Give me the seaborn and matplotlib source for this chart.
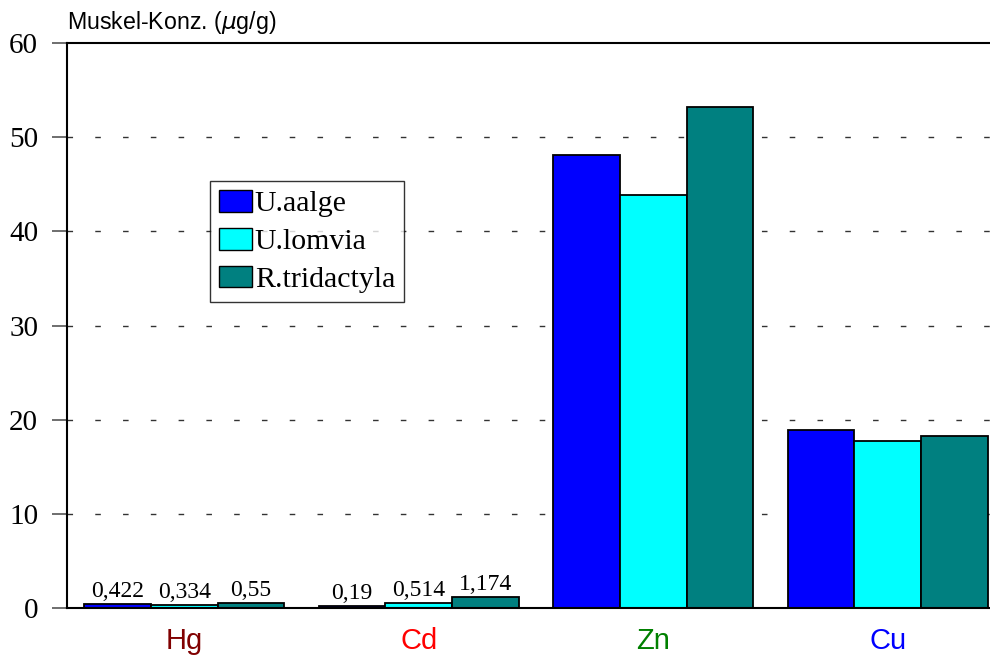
import matplotlib
matplotlib.use("Agg")
import matplotlib.pyplot as plt
import seaborn as sns
import pandas as pd
from matplotlib.patches import Patch

elements = ["Hg", "Cd", "Zn", "Cu"]
element_colors = ["#800000", "#ff0000", "#008000", "#0000ff"]
species = ["U.aalge", "U.lomvia", "R.tridactyla"]
species_colors = ["#0000ff", "#00ffff", "#008080"]

u_aalge = [0.422, 0.19, 48.1, 18.9]
u_lomvia = [0.334, 0.514, 43.9, 17.7]
r_tridactyla = [0.55, 1.174, 53.2, 18.3]

hg_cd_labels = {"Hg": ["0,422", "0,334", "0,55"], "Cd": ["0,19", "0,514", "1,174"]}

df = pd.DataFrame({
    "Element": elements * 3,
    "Art": [species[0]] * 4 + [species[1]] * 4 + [species[2]] * 4,
    "Konz": u_aalge + u_lomvia + r_tridactyla,
})

sns.set_theme(style="white")
plt.rcParams["font.family"] = ["Liberation Serif", "DejaVu Serif"]
plt.rcParams["text.color"] = "black"
plt.rcParams["ytick.color"] = "black"

fig = plt.figure(figsize=(9.9, 6.56), dpi=100)
ax = fig.add_axes([67 / 990, 1 - 608 / 656, 1 - 67 / 990, (608 - 43) / 656])

sns.barplot(data=df, x="Element", y="Konz", hue="Art", order=elements,
            hue_order=species, palette=species_colors, width=0.855,
            edgecolor="black", linewidth=1.3, saturation=1, legend=False, ax=ax)

ax.set_ylim(0, 60)
ax.set_xlim(-0.5, (990 - 67) / 234.5 - 0.5)
ax.set_yticks(range(0, 61, 10))
ax.set_yticklabels([str(v) for v in range(0, 61, 10)], fontsize=21, color="black")
ax.tick_params(axis="y", which="major", left=True, length=10.8, width=1.2,
               color="#555555", labelcolor="black", pad=10, direction="out")
ax.tick_params(axis="x", bottom=False, pad=8)
ax.set_xlabel("")
ax.set_ylabel("")

for lbl, c in zip(ax.get_xticklabels(), element_colors):
    lbl.set_color(c)
    lbl.set_fontfamily("Liberation Sans")
    lbl.set_fontsize(21)

for yv in range(10, 60, 10):
    ax.axhline(yv, color="#333333", linewidth=1.0, linestyle=(0, (4, 16)), zorder=0)

for side in ["left", "bottom", "top"]:
    ax.spines[side].set_visible(True)
    ax.spines[side].set_color("black")
    ax.spines[side].set_linewidth(1.5)
ax.spines["right"].set_visible(False)

# value labels above the small Hg and Cd bars
for container, si in zip(ax.containers, range(len(species))):
    for bi, bar in enumerate(container):
        el = elements[bi]
        if el in hg_cd_labels:
            ax.text(bar.get_x() + bar.get_width() / 2, bar.get_height() + 0.2,
                    hg_cd_labels[el][si], ha="center", va="bottom", fontsize=17,
                    color="black")

handles = [Patch(facecolor=c, edgecolor="black", linewidth=1.0) for c in species_colors]
leg = ax.legend(handles, species, loc="upper left", bbox_to_anchor=((210 - 67) / 923, 1 - (181 - 43) / 565),
                fontsize=21.5, frameon=True, fancybox=False, edgecolor="black",
                handlelength=1.1, handleheight=0.75, handletextpad=0.1,
                borderpad=0.3, labelspacing=0.35, borderaxespad=0)
leg.get_frame().set_linewidth(1.0)
for t in leg.get_texts():
    t.set_color("black")

fig.text(67 / 990, 1 - 22 / 656, "Muskel-Konz. ($\\mu$g/g)", fontsize=16.7,
         family="Liberation Sans", ha="left", va="center", color="black")

fig.savefig("out.png", dpi=100)
